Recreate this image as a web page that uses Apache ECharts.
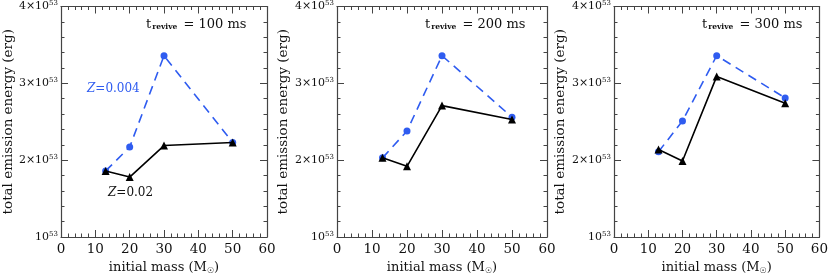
<!DOCTYPE html>
<html><head><meta charset="utf-8">
<script src="https://cdn.jsdelivr.net/npm/echarts@6/dist/echarts.min.js"></script>
<style>html,body{margin:0;padding:0;background:#fff}#c{width:831px;height:280px}</style>
</head><body><div id="c"></div>
<script>
const masses = [13, 20, 30, 50];
const trevive = ['100', '200', '300'];
// total emission energy in units of 1e53 erg
const lowZ100 = [1.86, 2.17, 3.36, 2.23];
const solarZ100 = [1.86, 1.78, 2.19, 2.23];
const lowZ200 = [2.03, 2.38, 3.36, 2.56];
const solarZ200 = [2.03, 1.92, 2.71, 2.53];
const lowZ300 = [2.11, 2.51, 3.36, 2.81];
const solarZ300 = [2.14, 1.99, 3.09, 2.74];
const yTickLabels = {1: '10', 2: '2×10', 3: '3×10', 4: '4×10'};
const lowSets = [lowZ100, lowZ200, lowZ300];
const solarSets = [solarZ100, solarZ200, solarZ300];

const FONT = 'DejaVu Serif';
const BLUE = '#2f5cf0';
const AX = '#444';
const grids = [{left: 58, width: 209}, {left: 337, width: 210}, {left: 614, width: 210}];

const option = {animation: false, grid: [], xAxis: [], yAxis: [], series: [], graphic: []};
grids.forEach((g, i) => {
  option.grid.push({left: g.left, width: g.width, top: 4, bottom: 41});
  const xBase = {gridIndex: i, type: 'value', min: 0, max: 60, interval: 10,
    axisLine: {show: true, onZero: false, lineStyle: {color: AX, width: 1.2}},
    axisTick: {show: true, inside: true, length: 7, lineStyle: {color: AX}},
    minorTick: {show: true, splitNumber: 5, length: 3.5, lineStyle: {color: AX}},
    splitLine: {show: false}};
  option.xAxis.push(Object.assign({}, xBase, {position: 'bottom',
    axisLabel: {fontFamily: FONT, fontSize: 13.5, color: '#111', margin: 5},
    name: '{a|initial mass (M}{b|☉}{a|)}', nameLocation: 'middle', nameGap: 24,
    nameTextStyle: {rich: {a: {fontFamily: FONT, fontSize: 13, color: '#111'},
      b: {fontFamily: 'DejaVu Sans', fontSize: 8, color: '#111', verticalAlign: 'bottom', padding: [6, 0, 0, 0]}}}}));
  option.xAxis.push(Object.assign({}, xBase, {position: 'top', axisLabel: {show: false}}));
  const yBase = {gridIndex: i, type: 'value', min: 1, max: 4, interval: 1,
    axisLine: {show: true, onZero: false, lineStyle: {color: AX, width: 1.2}},
    axisTick: {show: true, inside: true, length: 7, lineStyle: {color: AX}},
    minorTick: {show: true, splitNumber: 5, length: 3.5, lineStyle: {color: AX}},
    splitLine: {show: false}};
  option.yAxis.push(Object.assign({}, yBase, {position: 'left',
    axisLabel: {margin: 3, formatter: v => '{m|' + yTickLabels[v] + '}{s|53}',
      rich: {m: {fontFamily: FONT, fontSize: 11, color: '#111'},
             s: {fontFamily: FONT, fontSize: 7, color: '#111', verticalAlign: 'top', padding: [0, 0, 6, 0]}}},
    name: 'total emission energy (erg)', nameLocation: 'middle', nameGap: 46, nameRotate: 90,
    nameTextStyle: {fontFamily: FONT, fontSize: 13.5, color: '#111'}}));
  option.yAxis.push(Object.assign({}, yBase, {position: 'right', axisLabel: {show: false}}));

  option.series.push({type: 'line', xAxisIndex: 2 * i, yAxisIndex: 2 * i,
    data: masses.map((m, k) => [m, lowSets[i][k]]),
    symbol: 'circle', symbolSize: 7, itemStyle: {color: BLUE},
    lineStyle: {color: BLUE, width: 1.6, type: [9, 6]}, z: 2});
  option.series.push({type: 'line', xAxisIndex: 2 * i, yAxisIndex: 2 * i,
    data: masses.map((m, k) => [m, solarSets[i][k]]),
    symbol: 'triangle', symbolSize: 8, itemStyle: {color: '#000'},
    lineStyle: {color: '#000', width: 1.6}, z: 3});

  option.graphic.push({type: 'text', left: g.left + 88, top: 18, z: 10,
    style: {text: '{t|t}{sub|revive}{t| = ' + trevive[i] + ' ms}',
      rich: {t: {fontFamily: FONT, fontSize: 13, fill: '#111'},
             sub: {fontFamily: FONT, fontSize: 7.5, fontWeight: 'bold', fill: '#111', verticalAlign: 'bottom', padding: [5, 2, 0, 1]}}}});
});
option.graphic.push({type: 'text', left: 87, top: 83, z: 10,
  style: {text: '{i|Z}{n|=0.004}', rich: {i: {fontFamily: FONT, fontStyle: 'italic', fontSize: 12, fill: BLUE},
    n: {fontFamily: FONT, fontSize: 12, fill: BLUE}}}});
option.graphic.push({type: 'text', left: 108, top: 187, z: 10,
  style: {text: '{i|Z}{n|=0.02}', rich: {i: {fontFamily: FONT, fontStyle: 'italic', fontSize: 12, fill: '#111'},
    n: {fontFamily: FONT, fontSize: 12, fill: '#111'}}}});

const chart = echarts.init(document.getElementById('c'), null, {renderer: 'canvas'});
chart.setOption(option);
</script></body></html>
